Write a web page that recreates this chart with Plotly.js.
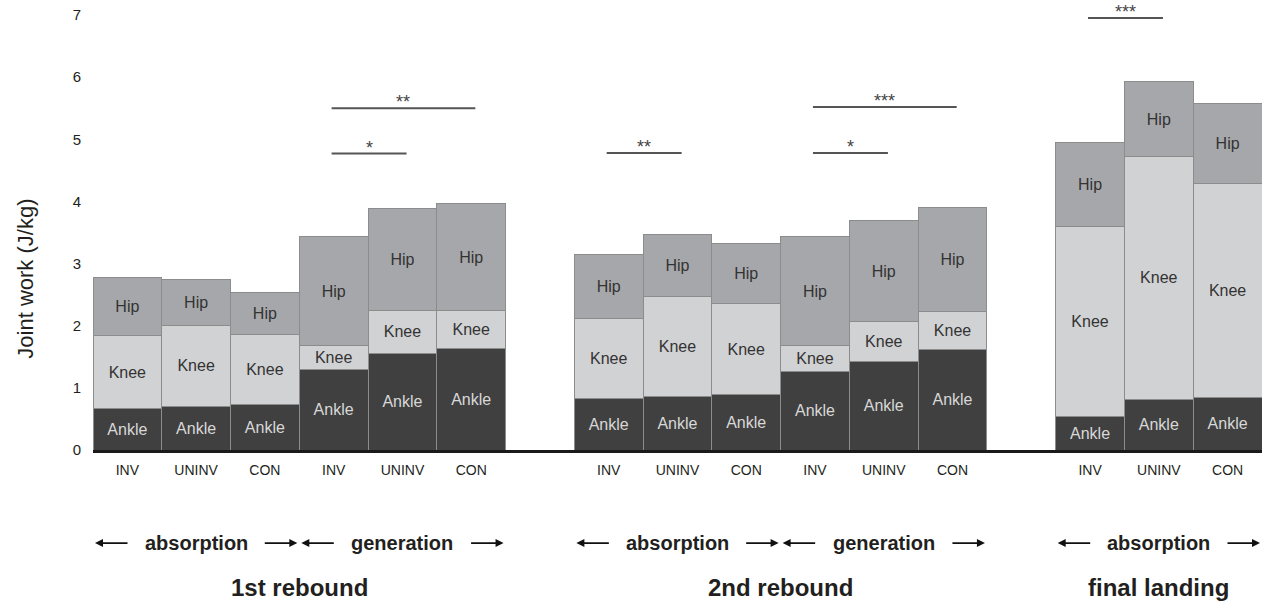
<!DOCTYPE html>
<html>
<head>
<meta charset="utf-8">
<script src="https://cdn.plot.ly/plotly-3.0.1.min.js"></script>
<style>html,body{margin:0;padding:0;background:#fff;}#chart{width:1267px;height:604px;}</style>
</head>
<body>
<div id="chart"></div>
<script>
// ---- data ----
const tickLabels = ['INV','UNINV','CON','INV','UNINV','CON','INV','UNINV','CON','INV','UNINV','CON','INV','UNINV','CON'];
const barPos = [0,1,2,3,4,5,7,8,9,10,11,12,14,15,16];
const ankle = [0.67,0.70,0.73,1.30,1.55,1.64, 0.83,0.86,0.90,1.26,1.42,1.62, 0.54,0.82,0.85];
const knee  = [1.17,1.31,1.13,0.38,0.70,0.60, 1.29,1.61,1.45,0.42,0.65,0.61, 3.06,3.90,3.44];
const hip   = [0.93,0.74,0.67,1.75,1.63,1.72, 1.02,0.99,0.98,1.75,1.62,1.67, 1.35,1.21,1.29];

// significance comparisons (bar position from -> to)
const sigFrom  = [3, 3, 7, 10, 10, 14];
const sigTo    = [4, 5, 8, 11, 12, 15];
const sigLevel = [4.77, 5.50, 4.78, 4.78, 5.52, 6.95];
const sigLabel = ['*', '**', '**', '*', '***', '***'];

// phases (first bar, last bar, name) and group titles (first bar, last bar, title)
const phaseStart = [0, 3, 7, 10, 14];
const phaseEnd   = [2, 5, 9, 12, 16];
const phaseName  = ['absorption','generation','absorption','generation','absorption'];
const groupStart = [0, 7, 14];
const groupEnd   = [5, 12, 16];
const groupName  = ['1st rebound','2nd rebound','final landing'];

const FONT = 'Liberation Sans, Arial, Helvetica, sans-serif';

function seg(name, vals, color, txtColor) {
  return {
    type: 'bar', name: name, x: barPos, y: vals,
    text: vals.map(() => name),
    textposition: 'inside', insidetextanchor: 'middle', textangle: 0,
    constraintext: 'none',
    textfont: {family: FONT, size: 16, color: txtColor},
    marker: {color: color, line: {color: '#8c8c8c', width: 1}},
    hoverinfo: 'skip', showlegend: false
  };
}

const traces = [
  seg('Ankle', ankle, '#404040', '#d8d8d8'),
  seg('Knee', knee, '#d1d2d4', '#333333'),
  seg('Hip', hip, '#a6a7aa', '#333333')
];

const shapes = [];
const annotations = [];

for (let i = 0; i < sigFrom.length; i++) {
  const x0 = sigFrom[i] - 0.03, x1 = sigTo[i] + 0.06;
  shapes.push({type: 'line', xref: 'x', yref: 'y', x0: x0, x1: x1, y0: sigLevel[i], y1: sigLevel[i],
    line: {color: '#555555', width: 2}});
  annotations.push({xref: 'x', yref: 'y', x: (x0 + x1) / 2, y: sigLevel[i], yanchor: 'bottom',
    xanchor: 'center', text: sigLabel[i], showarrow: false, yshift: -6,
    font: {family: FONT, size: 18, color: '#444444'}});
}

const rowPhase = -0.214, rowGroup = -0.317;
for (let i = 0; i < phaseName.length; i++) {
  const left = phaseStart[i] - 0.5, right = phaseEnd[i] + 0.5;
  annotations.push({xref: 'x', yref: 'paper', x: (left + right) / 2, y: rowPhase,
    xanchor: 'center', yanchor: 'middle',
    text: '<b>' + phaseName[i] + '</b>', showarrow: false,
    font: {family: FONT, size: 20, color: '#231f20'}});
  annotations.push({xref: 'x', yref: 'paper', x: left, y: rowPhase, text: '', showarrow: true,
    axref: 'pixel', ayref: 'pixel', ax: 36, ay: 0, arrowhead: 2, arrowsize: 1, arrowwidth: 1.6,
    arrowcolor: '#111', standoff: 2});
  annotations.push({xref: 'x', yref: 'paper', x: right, y: rowPhase, text: '', showarrow: true,
    axref: 'pixel', ayref: 'pixel', ax: -36, ay: 0, arrowhead: 2, arrowsize: 1, arrowwidth: 1.6,
    arrowcolor: '#111', standoff: 2});
}
for (let i = 0; i < groupName.length; i++) {
  annotations.push({xref: 'x', yref: 'paper', x: (groupStart[i] + groupEnd[i]) / 2, y: rowGroup,
    xanchor: 'center', yanchor: 'middle',
    text: '<b>' + groupName[i] + '</b>', showarrow: false,
    font: {family: FONT, size: 24, color: '#231f20'}});
}

annotations.push({xref: 'paper', yref: 'paper', x: -0.0585, y: 0.393, textangle: -90,
  xanchor: 'center', yanchor: 'middle',
  text: 'Joint work (J/kg)', showarrow: false,
  font: {family: FONT, size: 22, color: '#231f20'}});

const layout = {
  width: 1267, height: 604,
  margin: {l: 93, r: 5, t: 15, b: 154},
  paper_bgcolor: '#ffffff', plot_bgcolor: '#ffffff',
  barmode: 'stack', bargap: 0,
  font: {family: FONT, color: '#231f20'},
  xaxis: {
    range: [-0.5, 16.5], tickvals: barPos, ticktext: tickLabels,
    showgrid: false, zeroline: false, showline: true, linecolor: '#1a1a1a', linewidth: 3,
    ticks: 'outside', ticklen: 5, tickcolor: 'rgba(0,0,0,0)',
    tickfont: {family: FONT, size: 14, color: '#231f20'}
  },
  yaxis: {
    range: [0, 7], tickvals: [0,1,2,3,4,5,6,7],
    showgrid: false, zeroline: false, showline: false,
    ticks: 'outside', ticklen: 8, tickcolor: 'rgba(0,0,0,0)',
    tickfont: {family: FONT, size: 15, color: '#231f20'}
  },
  shapes: shapes,
  annotations: annotations
};

Plotly.newPlot('chart', traces, layout, {displayModeBar: false, staticPlot: true});
</script>
</body>
</html>
